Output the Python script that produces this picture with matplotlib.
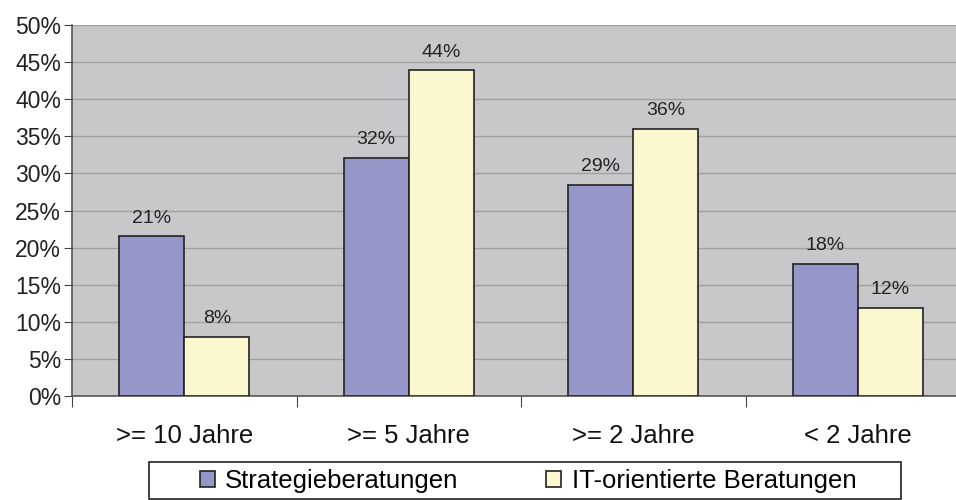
import numpy as np
import matplotlib.pyplot as plt
from matplotlib.patches import Rectangle

categories = [">= 10 Jahre", ">= 5 Jahre", ">= 2 Jahre", "< 2 Jahre"]
series_names = ["Strategieberatungen", "IT-orientierte Beratungen"]
strategie = [21.5, 32.1, 28.5, 17.8]
it_beratung = [8.0, 43.9, 36.0, 11.9]
labels_strategie = ["21%", "32%", "29%", "18%"]
labels_it = ["8%", "44%", "36%", "12%"]
y_ticks = [0, 5, 10, 15, 20, 25, 30, 35, 40, 45, 50]

plt.rcParams["font.family"] = ["Liberation Sans", "DejaVu Sans"]

fig = plt.figure(figsize=(9.56, 5), dpi=100)
# plot area runs past the right edge in the reference
ax = fig.add_axes([72 / 956, 1 - 396 / 500, 898 / 956, 371 / 500])
ax.set_facecolor("#c8c8ca")

x = np.arange(len(categories))
w = 0.29
b1 = ax.bar(x - w / 2, strategie, w, color="#9696c8", edgecolor="#222222",
            linewidth=1.2, label=series_names[0], zorder=3)
b2 = ax.bar(x + w / 2, it_beratung, w, color="#fbf8cf", edgecolor="#222222",
            linewidth=1.2, label=series_names[1], zorder=3)

for bars, labs in ((b1, labels_strategie), (b2, labels_it)):
    for rect, lab in zip(bars, labs):
        ax.text(rect.get_x() + rect.get_width() / 2, rect.get_height() + 1.3, lab,
                ha="center", va="bottom", fontsize=14, color="#222222")

ax.set_xlim(-0.5, 3.5)
ax.set_ylim(0, 50)
ax.set_yticks(y_ticks)
ax.set_yticklabels([f"{v}%" for v in y_ticks], fontsize=16.5, color="#222222")
ax.yaxis.grid(True, color="#a0a0a2", linewidth=1, zorder=0)
ax.set_axisbelow(True)

ax.set_xticks(np.arange(-0.5, 4, 1))
ax.set_xticklabels([])
ax.set_xticks(x, minor=True)
ax.set_xticklabels(categories, minor=True, fontsize=18.5, color="#111111")
ax.tick_params(axis="x", which="minor", length=0, pad=20)
ax.tick_params(axis="x", which="major", length=8, color="#444444")
ax.tick_params(axis="y", length=6, color="#444444", pad=2)

for side in ("top", "right"):
    ax.spines[side].set_visible(False)
for side in ("left", "bottom"):
    ax.spines[side].set_color("#555555")
    ax.spines[side].set_linewidth(1.2)

# legend box drawn separately so the entries can sit centred inside it
fig.patches.append(Rectangle((149 / 956, 1 / 500), 752 / 956, 37 / 500,
                             transform=fig.transFigure, facecolor="white",
                             edgecolor="#222222", linewidth=1.2, zorder=0))
leg = fig.legend(handles=[b1, b2], labels=series_names, ncol=2,
                 loc="center", bbox_to_anchor=(528 / 956, 1 - 481 / 500),
                 fontsize=18.5, frameon=False, handlelength=0.6, handleheight=0.6,
                 handletextpad=0.4, borderaxespad=0.0, borderpad=0.0,
                 columnspacing=3.4)

fig.savefig("out.png", dpi=100)
